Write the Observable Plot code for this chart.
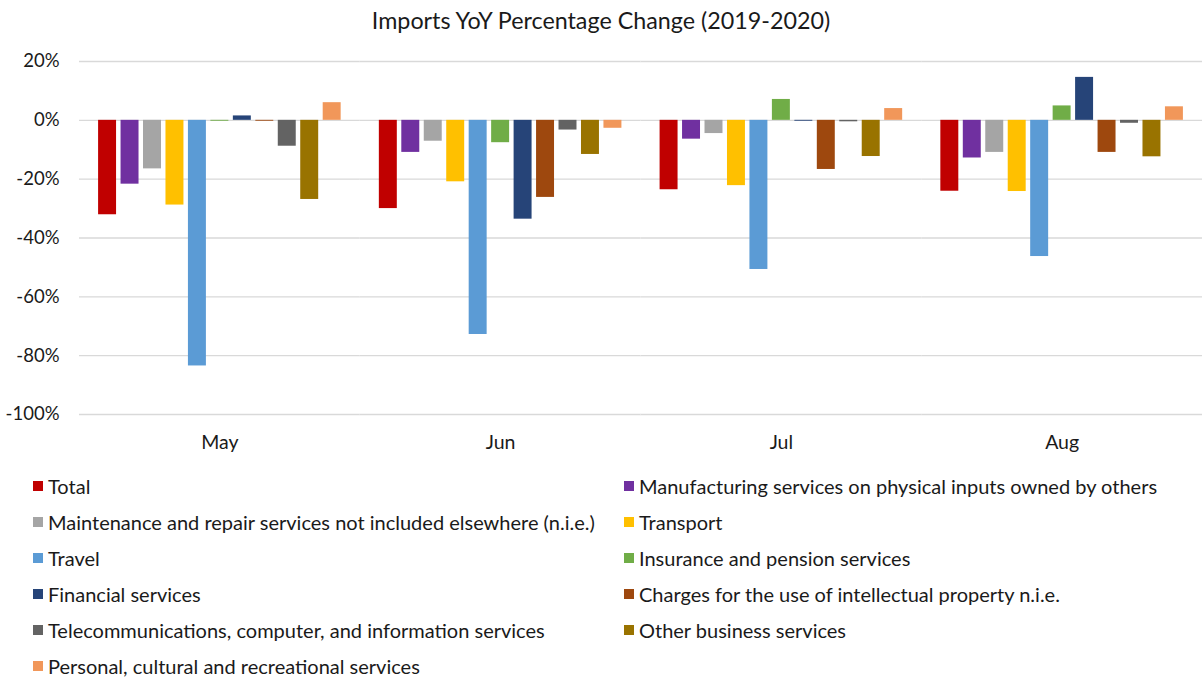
<!DOCTYPE html>
<html>
<head>
<meta charset="utf-8">
<script src="https://cdn.jsdelivr.net/npm/d3@7"></script>
<script src="https://cdn.jsdelivr.net/npm/@observablehq/plot@0.6"></script>
<style>
  html, body { margin: 0; padding: 0; background: #fff; }
  body { width: 1202px; font-family: Lato, "Open Sans", sans-serif; color: #1a1a1a; }
  #title { height: 40px; line-height: 40px; text-align: center; font-size: 23.3px; color: #1a1a1a; }
  #legend { display: grid; grid-template-columns: 591px 1fr; padding-left: 33px; padding-top: 3px; }
  .item { height: 36px; display: flex; align-items: center; font-size: 20px; color: #1a1a1a; white-space: nowrap; }
  .sw { width: 10px; height: 10px; margin-right: 5px; flex: none; }
  svg { display: block; }
</style>
</head>
<body>
<div id="title">Imports YoY Percentage Change (2019-2020)</div>
<div id="chart"></div>
<div id="legend"></div>
<script>
const months = ["May", "Jun", "Jul", "Aug"];
const categories = [
  "Total",
  "Manufacturing services on physical inputs owned by others",
  "Maintenance and repair services not included elsewhere (n.i.e.)",
  "Transport",
  "Travel",
  "Insurance and pension services",
  "Financial services",
  "Charges for the use of intellectual property n.i.e.",
  "Telecommunications, computer, and information services",
  "Other business services",
  "Personal, cultural and recreational services"
];
const colors = ["#C00000", "#7030A0", "#A5A5A5", "#FFC000", "#5B9BD5", "#70AD47", "#264478", "#9E480E", "#636363", "#997300", "#F1975A"];
// values in percent, same order as categories
const valuesMay = [-32.1, -21.7, -16.5, -28.8, -83.5, -0.3, 1.5, -0.3, -8.8, -26.9, 6.0];
const valuesJun = [-30.0, -10.9, -7.1, -20.9, -72.8, -7.6, -33.6, -26.2, -3.3, -11.6, -2.7];
const valuesJul = [-23.6, -6.4, -4.5, -22.2, -50.7, 7.1, -0.3, -16.7, -0.5, -12.3, 4.0];
const valuesAug = [-24.1, -12.8, -10.9, -24.2, -46.3, 4.9, 14.6, -10.9, -1.0, -12.4, 4.6];
const yTicks = [20, 0, -20, -40, -60, -80, -100];

const series = [valuesMay, valuesJun, valuesJul, valuesAug];
const data = [];
months.forEach((m, i) => categories.forEach((c, j) => data.push({month: m, category: c, value: series[i][j]})));

const chart = Plot.plot({
  width: 1202,
  height: 425,
  marginTop: 21,
  marginBottom: 51,
  marginLeft: 79,
  marginRight: 0,
  style: {fontFamily: "Lato, 'Open Sans', sans-serif", color: "#1a1a1a", background: "#fff"},
  fx: {domain: months, padding: 0, label: null, round: false},
  x: {domain: categories, axis: null, paddingInner: 0.2, paddingOuter: 0.85, round: false},
  y: {domain: [-100, 20], axis: null},
  color: {domain: categories, range: colors},
  marks: [
    Plot.gridY(yTicks, {stroke: "#d9d9d9", strokeOpacity: 1, strokeWidth: 1.3}),
    Plot.barY(data, {fx: "month", x: "category", y: "value", fill: "category"}),
    Plot.axisY(yTicks, {tickSize: 0, tickPadding: 20, fontSize: 18.5, tickFormat: d => d + "%", label: null}),
    Plot.axisFx({anchor: "bottom", tickSize: 0, tickPadding: 21, fontSize: 19.5, label: null})
  ]
});
document.getElementById("chart").appendChild(chart);

const legend = document.getElementById("legend");
categories.forEach((c, i) => {
  const d = document.createElement("div");
  d.className = "item";
  const s = document.createElement("span");
  s.className = "sw";
  s.style.background = colors[i];
  d.appendChild(s);
  d.appendChild(document.createTextNode(c));
  legend.appendChild(d);
});
</script>
</body>
</html>
